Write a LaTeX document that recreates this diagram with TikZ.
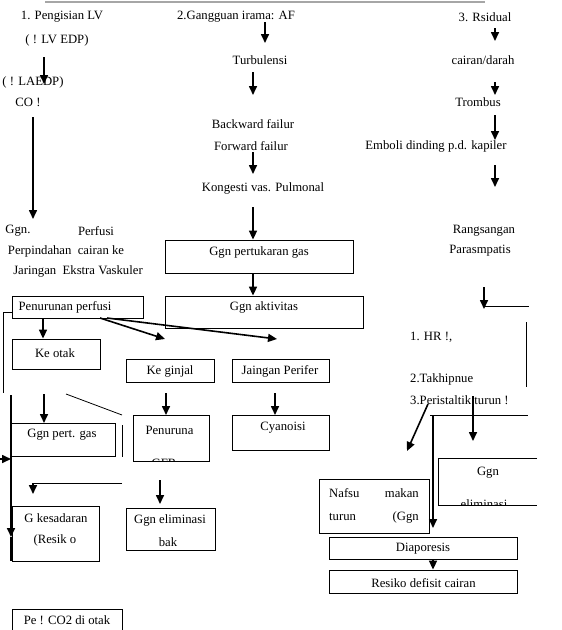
\documentclass[tikz,border=0pt]{standalone}
\usepackage{fontspec}
\setmainfont{Liberation Serif}
\usetikzlibrary{arrows.meta}
\begin{document}
\begin{tikzpicture}[x=1pt,y=-1pt,
  txt/.style={inner sep=0pt, font=\fontsize{12.7pt}{15pt}\selectfont},
  box/.style={draw, line width=0.8pt, inner sep=0pt},
  arr/.style={line width=1.6pt, -{Triangle[width=8pt,length=9pt]}},
  thinline/.style={line width=0.8pt},
  thickline/.style={line width=1.6pt}]
\useasboundingbox (0,0) rectangle (562,630);
\fill[white] (0,0) rectangle (562,630);

% top rule
\coordinate (rulL) at (45,1.5);
\coordinate (rulR) at (485,1.5);
\draw[gray!70, line width=2pt] (rulL) -- (rulR);

% ---------------- boxes ----------------
\node[box, minimum width=131pt, minimum height=22pt] (pp) at (77.5,307) {};
\node[box, minimum width=88pt, minimum height=30pt] (ko) at (56,354) {};
\node[box, minimum width=104pt, minimum height=33pt] (gpg) at (63,439.5) {};
\node[box, minimum width=87pt, minimum height=55pt] (gk) at (55.5,533.5) {};
\node[box, minimum width=110pt, minimum height=34pt] (pco) at (67,626) {};
\node[box, minimum width=188pt, minimum height=33pt] (gpt) at (259,256.5) {};
\node[box, minimum width=198pt, minimum height=32pt] (ga) at (264,312) {};
\node[box, minimum width=88pt, minimum height=23pt] (ks) at (170,370.5) {};
\node[box, minimum width=97pt, minimum height=23pt] (jp) at (280.5,370.5) {};
\node[box, minimum width=76pt, minimum height=46pt] (pg) at (171,438) {};
\node[box, minimum width=97pt, minimum height=35pt] (cy) at (280.5,432.5) {};
\node[box, minimum width=89pt, minimum height=42pt] (ge) at (170.5,529) {};
\node[box, minimum width=110pt, minimum height=54pt] (nm) at (374,506) {};
\node[inner sep=0pt, minimum width=98pt, minimum height=46pt] (ge2) at (488,482) {};
\draw[thinline] (ge2.north east) -- (ge2.north west) -- (ge2.south west) -- (ge2.south east);
\node[box, minimum width=188pt, minimum height=22pt] (di) at (423,548) {};
\node[box, minimum width=188pt, minimum height=23pt] (rd) at (423,581.5) {};

% ---------------- column 1 texts ----------------
\node[txt] (t1a) at (62,17) {1. Pengisian LV};
\node[txt] (t1b) at (57,40) {( ! LV EDP)};
\node[txt] (t1c) at (33,82) {( ! LAEDP)};
\node[txt] (t1d) at (28,102) {CO !};
\node[txt] (t1e) at (18,231) {Ggn.};
\node[txt] (t1f) at (96,231) {Perfusi};
\node[txt] (t1g) at (66,251) {Perpindahan\ \ cairan ke};
\node[txt] (t1h) at (78,271) {Jaringan\ \ Ekstra Vaskuler};
\node[txt] (ppt) at (65,307) {Penurunan perfusi};
\node[txt] (kot) at (55,353) {Ke otak};
\node[txt] (gpgt) at (62,435) {Ggn pert. gas};
\node[txt] (gkt1) at (56,518) {G kesadaran};
\node[txt] (gkt2) at (55,540) {(Resik o};
\node[txt] (pcot) at (67,620) {Pe ! CO2 di otak};

% ---------------- column 2 texts ----------------
\node[txt] (t2a) at (236,17) {2.Gangguan irama: AF};
\node[txt] (t2b) at (260,60) {Turbulensi};
\node[txt] (t2c) at (253,124) {Backward failur};
\node[txt] (t2d) at (251,146) {Forward failur};
\node[txt] (t2e) at (263,188) {Kongesti vas. Pulmonal};
\node[txt] (gptt) at (259,252) {Ggn pertukaran gas};
\node[txt] (gat) at (264,307) {Ggn aktivitas};
\node[txt] (kst) at (170,371) {Ke ginjal};
\node[txt] (jpt) at (280,371) {Jaingan Perifer};
\node[txt] (pgt1) at (169.5,430) {Penuruna};
\begin{scope}
  \clip (pg.north west) rectangle (pg.south east);
  \node[txt, anchor=west] (pgt2) at (142,463) {n GFR};
\end{scope}
\node[txt] (cyt) at (283,428) {Cyanoisi};
\node[txt] (get1) at (170,520) {Ggn eliminasi};
\node[txt] (get2) at (168,542) {bak};

% ---------------- column 3 texts ----------------
\node[txt] (t3a) at (485,17) {3. Rsidual};
\node[txt] (t3b) at (483,60) {cairan/darah};
\node[txt] (t3c) at (478,102) {Trombus};
\node[txt] (t3d) at (436,146) {Emboli dinding p.d. kapiler};
\node[txt] (t3e) at (484,231) {Rangsangan};
\node[txt] (t3f) at (480,251) {Parasmpatis};
\node[txt, anchor=west] (t3g) at (410,337) {1. HR !,};
\node[txt, anchor=west] (t3h) at (410,379) {2.Takhipnue};
\node[txt, anchor=west] (t3i) at (410,400) {3.Peristaltik turun !};
\node[txt, anchor=west] (nmt1) at (329,493) {Nafsu};
\node[txt, anchor=east] (nmt2) at (419,493) {makan};
\node[txt, anchor=west] (nmt3) at (329,517) {turun};
\node[txt, anchor=east] (nmt4) at (419,517) {(Ggn};
\node[txt] (ge2t1) at (488,473) {Ggn};
\begin{scope}
  \clip (ge2.north west) rectangle (ge2.south east);
  \node[txt] (ge2t2) at (484,504) {eliminasi};
\end{scope}
\node[txt] (dit) at (423,549) {Diaporesis};
\node[txt] (rdt) at (423.5,583) {Resiko defisit cairan};

% ---------------- connectors column 1 ----------------
\coordinate (c1a) at (44,57);   \coordinate (c1b) at (44,84);
\draw[arr] (c1a) -- (c1b);
\coordinate (c1c) at (33,117);  \coordinate (c1d) at (33,219);
\draw[arr] (c1c) -- (c1d);
\draw[arr] (pp.south -| ko.center) ++(-13,0) coordinate (c1e) -- (c1e |- ko.north);
\coordinate (c1f) at (100,318); \coordinate (c1g) at (165,339);
\draw[arr] (c1f) -- (c1g);
\coordinate (c1h) at (107,318); \coordinate (c1i) at (277,339);
\draw[arr] (c1h) -- (c1i);
\coordinate (c1j) at (12,312); \coordinate (c1k) at (3,312); \coordinate (c1l) at (3,393);
\draw[thinline] (c1j) -- (c1k) -- (c1l);
\coordinate (c1m) at (0,459); \coordinate (c1n) at (11,459);
\draw[arr] (c1m) -- (c1n);
\coordinate (c1o) at (11,395); \coordinate (c1p) at (11,537); \coordinate (c1q) at (11,561);
\draw[arr] (c1o) -- (c1p);
\draw[thickline] (c1p) -- (c1q);
\coordinate (c1r) at (44,394); \coordinate (c1s) at (44,423);
\draw[arr] (c1r) -- (c1s);
\coordinate (c1t) at (66,394); \coordinate (c1u) at (122,415);
\draw[thinline] (c1t) -- (c1u);
\coordinate (c1v) at (122,425); \coordinate (c1w) at (122,457);
\draw[thinline] (c1v) -- (c1w);
\coordinate (c1x) at (166,393); \coordinate (c1y) at (166,415);
\draw[arr] (c1x) -- (c1y);
\coordinate (c1z) at (275,393); \coordinate (c2z) at (275,415);
\draw[arr] (c1z) -- (c2z);
\coordinate (c3a) at (122,483); \coordinate (c3b) at (33,483); \coordinate (c3c) at (33,494);
\draw[thinline] (c3a) -- (c3b);
\draw[arr] (c3b) -- (c3c);
\coordinate (c3d) at (160,480); \coordinate (c3e) at (160,504);
\draw[arr] (c3d) -- (c3e);

% ---------------- connectors column 2 ----------------
\coordinate (c2a) at (265,22);  \coordinate (c2b) at (265,43);
\draw[arr] (c2a) -- (c2b);
\coordinate (c2c) at (253,72);  \coordinate (c2d) at (253,95);
\draw[arr] (c2c) -- (c2d);
\coordinate (c2e) at (253,152); \coordinate (c2f) at (253,174);
\draw[arr] (c2e) -- (c2f);
\coordinate (c2g) at (253,207);
\draw[arr] (c2g) -- (c2g |- gpt.north);
\draw[arr] (gpt.south -| c2g) -- (ga.north -| c2g);

% ---------------- connectors column 3 ----------------
\coordinate (c4a) at (495,28);  \coordinate (c4b) at (495,41);
\draw[arr] (c4a) -- (c4b);
\coordinate (c4c) at (495,82);  \coordinate (c4d) at (495,95);
\draw[arr] (c4c) -- (c4d);
\coordinate (c4e) at (495,115); \coordinate (c4f) at (495,140);
\draw[arr] (c4e) -- (c4f);
\coordinate (c4g) at (495,165); \coordinate (c4h) at (495,187);
\draw[arr] (c4g) -- (c4h);
\coordinate (c4i) at (484,287); \coordinate (c4j) at (484,309);
\draw[arr] (c4i) -- (c4j);
\coordinate (c4k) at (484,306); \coordinate (c4l) at (529,306);
\draw[thinline] (c4k) -- (c4l);
\coordinate (c4m) at (526,322); \coordinate (c4n) at (526,387);
\draw[thinline] (c4m) -- (c4n);
\coordinate (c4o) at (430,415); \coordinate (c4p) at (528,415);
\draw[thinline] (c4o) -- (c4p);
\coordinate (c4q) at (433,415); \coordinate (c4r) at (433,528);
\draw[arr] (c4q) -- (c4r);
\coordinate (c4s) at (428,404); \coordinate (c4t) at (407,451);
\draw[arr] (c4s) -- (c4t);
\coordinate (c4u) at (473,396); \coordinate (c4v) at (473,441);
\draw[arr] (c4u) -- (c4v);
\draw[arr] (di.south -| c4q) -- (rd.north -| c4q);
\end{tikzpicture}
\end{document}
